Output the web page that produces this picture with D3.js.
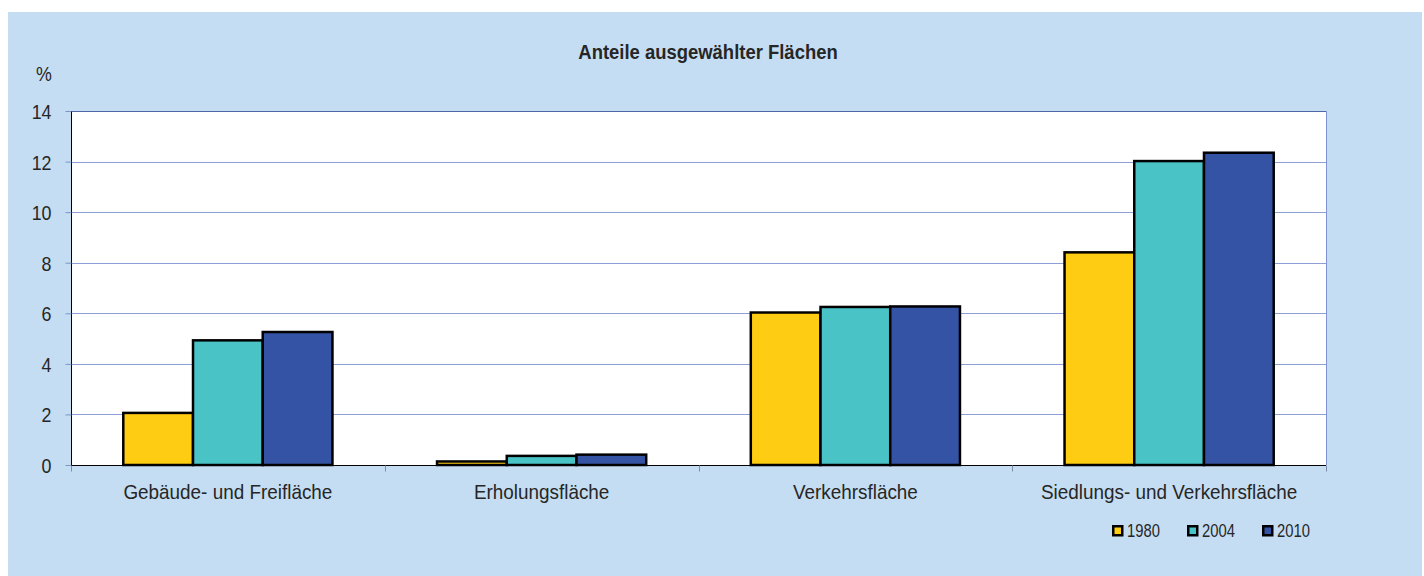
<!DOCTYPE html>
<html>
<head>
<meta charset="utf-8">
<script src="https://cdn.jsdelivr.net/npm/d3@7"></script>
<style>
  html, body { margin: 0; padding: 0; background: #ffffff; }
  svg { display: block; }
  text { font-family: "Liberation Sans Narrow", "Arial Narrow", "Liberation Sans", Arial, sans-serif; fill: #262626; }
</style>
</head>
<body>
<svg id="chart" width="1424" height="576"></svg>
<script>
const categories = ["Gebäude- und Freifläche", "Erholungsfläche", "Verkehrsfläche", "Siedlungs- und Verkehrsfläche"];
const years = ["1980", "2004", "2010"];
const values1980 = [2.06, 0.14, 6.03, 8.41];
const values2004 = [4.93, 0.36, 6.25, 12.02];
const values2010 = [5.26, 0.41, 6.27, 12.35];
const yTicks = [0, 2, 4, 6, 8, 10, 12, 14];
const colors = ["#FECC12", "#4AC3C7", "#3453A4"];
const title = "Anteile ausgewählter Flächen";
const yUnit = "%";

const seriesValues = [values1980, values2004, values2010];
const data = categories.map((c, i) => ({
  category: c,
  values: years.map((y, j) => ({ year: y, value: seriesValues[j][i], color: colors[j] }))
}));

// horizontally condense text (emulates a narrow face) keeping anchor positions
function narrow(sel, s) {
  sel.each(function () {
    const t = d3.select(this);
    const x = +t.attr("x") || 0, yy = +t.attr("y") || 0;
    t.attr("x", 0).attr("y", 0).attr("transform", `translate(${x},${yy}) scale(${s},1)`);
  });
}

const svg = d3.select("#chart");
svg.append("rect").attr("x", 8).attr("y", 12).attr("width", 1414).attr("height", 564).attr("fill", "#C5DDF2");

const plot = { left: 71, right: 1326, top: 111, bottom: 465 };

const x0 = d3.scaleBand().domain(categories).range([plot.left, plot.right]).paddingInner(0).paddingOuter(0);
const x1 = d3.scaleBand().domain(years).range([0, x0.bandwidth()]).paddingInner(0).paddingOuter(0.75);
const y = d3.scaleLinear().domain([0, 14]).range([plot.bottom, plot.top]);

svg.append("rect").attr("x", plot.left).attr("y", plot.top)
  .attr("width", plot.right - plot.left).attr("height", plot.bottom - plot.top)
  .attr("fill", "#ffffff");

svg.append("g").selectAll("line").data(yTicks.filter(t => t > 0 && t < 14)).join("line")
  .attr("x1", plot.left).attr("x2", plot.right)
  .attr("y1", d => Math.round(y(d)) + 0.5).attr("y2", d => Math.round(y(d)) + 0.5)
  .attr("stroke", "#8C9FD6").attr("stroke-width", 1);

svg.append("line").attr("x1", plot.left).attr("x2", plot.right + 0.5)
  .attr("y1", plot.top + 0.5).attr("y2", plot.top + 0.5).attr("stroke", "#4F67A8");
svg.append("line").attr("x1", plot.right + 0.5).attr("x2", plot.right + 0.5)
  .attr("y1", plot.top).attr("y2", plot.bottom).attr("stroke", "#7F93D2");

const groups = svg.append("g").selectAll("g").data(data).join("g")
  .attr("transform", d => `translate(${x0(d.category)},0)`);
groups.selectAll("rect").data(d => d.values).join("rect")
  .attr("x", d => x1(d.year))
  .attr("y", d => y(d.value))
  .attr("width", x1.bandwidth())
  .attr("height", d => y(0) - y(d.value))
  .attr("fill", d => d.color)
  .attr("stroke", "#000000")
  .attr("stroke-width", 2.5)
  .attr("stroke-linejoin", "miter");

// y axis
const yAxis = d3.axisLeft(y).tickValues(yTicks).tickSize(6).tickPadding(14).tickFormat(d3.format("d"));
const gy = svg.append("g").attr("transform", `translate(${plot.left + 0.5},0)`).call(yAxis);
gy.select(".domain").attr("stroke", "#000").attr("d", `M0,${plot.top}V${plot.bottom}`);
gy.selectAll(".tick line").attr("stroke", "#7F93BF");
gy.selectAll(".tick text").attr("font-size", 21).attr("fill", "#262626").attr("dy", null)
  .attr("y", 7.5)
  .style("font-family", '"Liberation Sans Narrow", "Arial Narrow", "Liberation Sans", Arial, sans-serif');
narrow(gy.selectAll(".tick text"), 0.85);

// x axis
const gx = svg.append("g").attr("transform", `translate(0,${plot.bottom + 0.5})`);
gx.append("line").attr("x1", plot.left).attr("x2", plot.right).attr("stroke", "#000");
const boundaries = categories.map(c => x0(c)).concat([plot.right]);
gx.selectAll("line.tk").data(boundaries).join("line").attr("class", "tk")
  .attr("x1", d => Math.round(d) + 0.5).attr("x2", d => Math.round(d) + 0.5)
  .attr("y1", 0).attr("y2", 6).attr("stroke", "#7F8CA8");
const cl = gx.selectAll("text").data(categories).join("text")
  .attr("x", d => x0(d) + x0.bandwidth() / 2)
  .attr("y", 33.5)
  .attr("text-anchor", "middle")
  .attr("font-size", 21)
  .text(d => d);
narrow(cl, 0.9);

// unit label
const ul = svg.append("text").attr("x", 44).attr("y", 81).attr("text-anchor", "middle")
  .attr("font-size", 21).text(yUnit);
narrow(ul, 0.85);

// title
const tt = svg.append("text").attr("x", 708).attr("y", 59).attr("text-anchor", "middle")
  .attr("font-size", 20.5).attr("font-weight", "bold").text(title);
narrow(tt, 0.9);

// legend
const legendX = [1112, 1187, 1262];
const lg = svg.append("g").selectAll("g").data(years).join("g")
  .attr("transform", (d, i) => `translate(${legendX[i]},525)`);
lg.append("rect").attr("x", 1.25).attr("y", 1.25).attr("width", 9).attr("height", 9)
  .attr("fill", (d, i) => colors[i]).attr("stroke", "#000").attr("stroke-width", 2.5);
const lt = lg.append("text").attr("x", 15).attr("y", 11.7).attr("font-size", 18.5).text(d => d);
narrow(lt, 0.8);
</script>
</body>
</html>
